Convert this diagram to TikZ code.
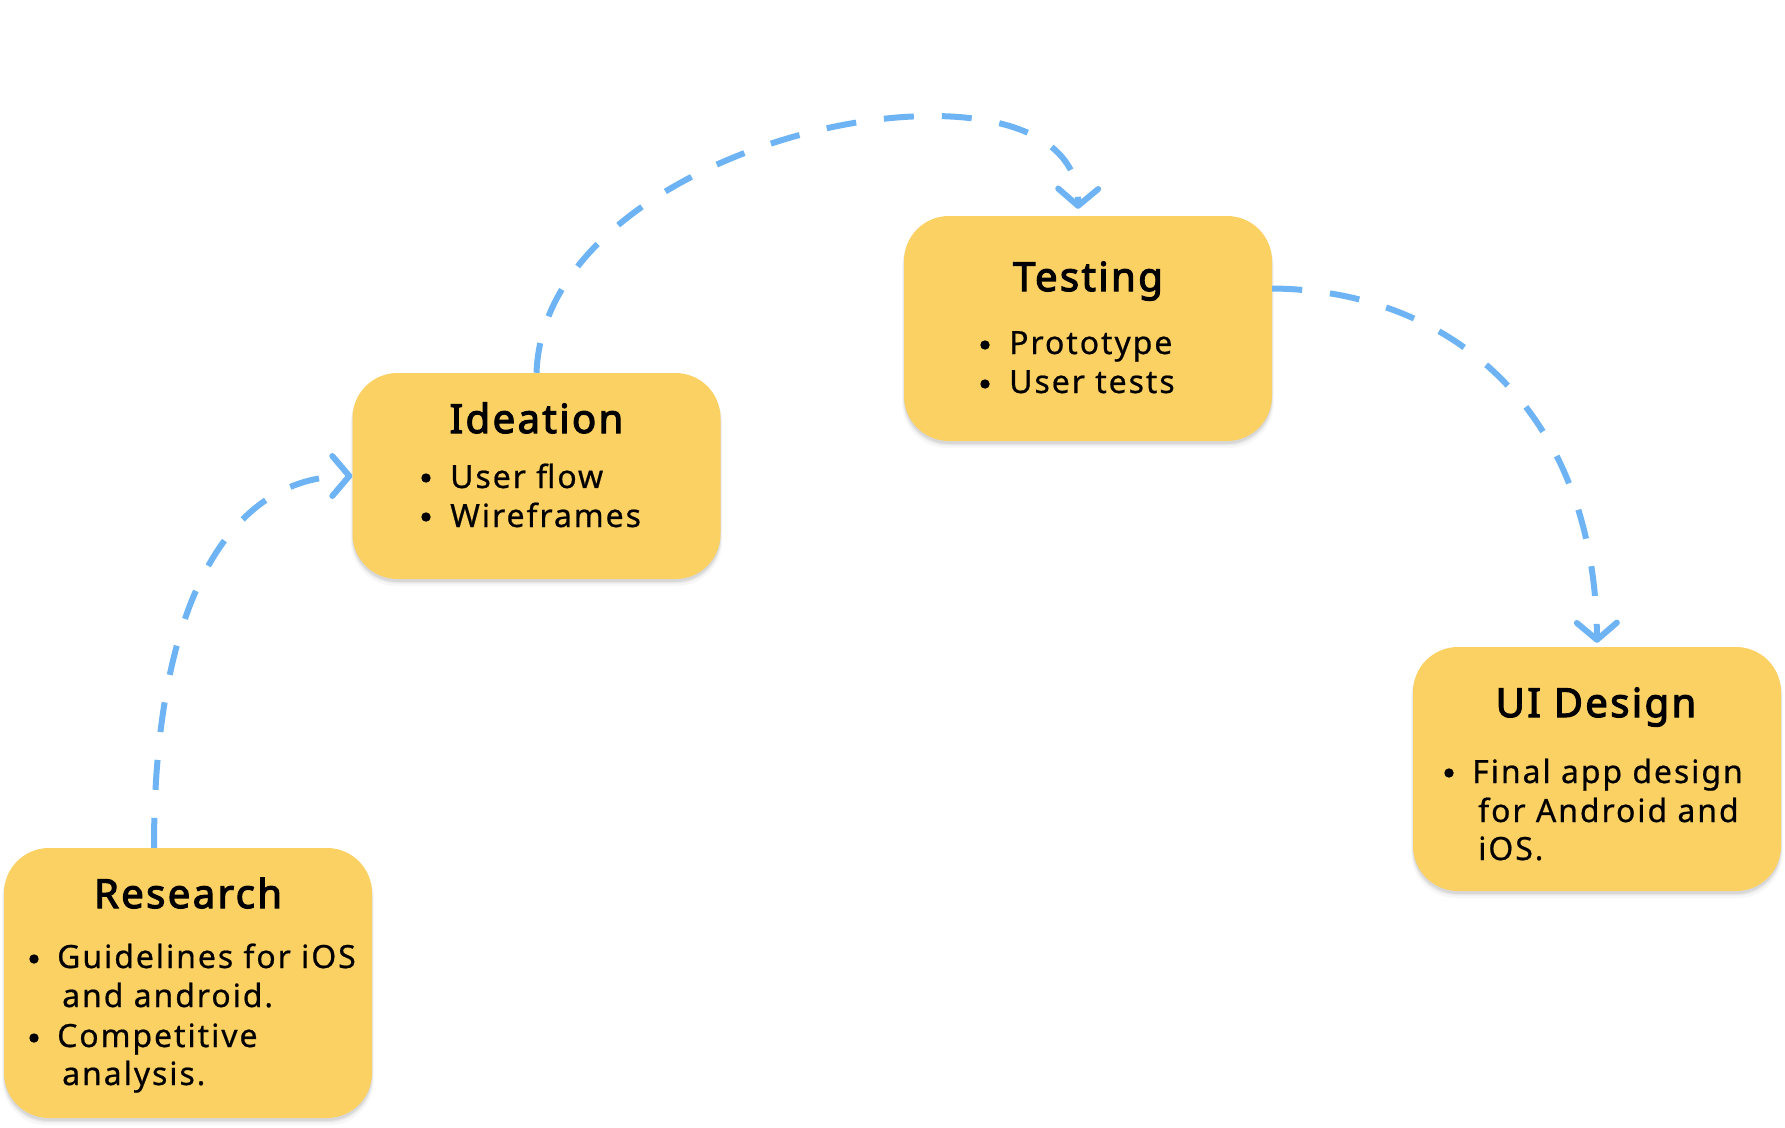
\documentclass[tikz,border=0pt]{standalone}
\usepackage{fontspec}
\setmainfont[LetterSpace=6,FakeBold=0.6]{Noto Sans}
\newfontfamily\headfont[LetterSpace=6,FakeBold=3]{Noto Sans}
\usetikzlibrary{arrows.meta,shadows}

\definecolor{cardfill}{HTML}{FBD164}
\definecolor{flow}{HTML}{6EB4F5}

\tikzset{
  card/.style={rectangle, rounded corners=45pt, fill=cardfill, minimum width=368pt,
    inner sep=0pt,
    general shadow={fill=black, opacity=0.03, shadow yshift=-6pt, shadow scale=1.01},
    general shadow={fill=black, opacity=0.05, shadow yshift=-4pt, shadow scale=1.005},
    general shadow={fill=black, opacity=0.08, shadow yshift=-3pt}},
  cardtitle/.style={anchor=base, inner sep=0pt, font=\headfont\fontsize{40}{48}\selectfont},
  item/.style={anchor=base west, inner sep=0pt, font=\fontsize{32}{39}\selectfont},
  flowline/.style={draw=flow, line width=6pt, dash pattern=on 30pt off 28pt,
    -{Straight Barb[length=17pt, width=40pt, round]}},
}

\begin{document}
\begin{tikzpicture}[x=1pt, y=-1pt]
  \useasboundingbox (0,0) rectangle (1785,1127);

  % cards
  \node[card, minimum height=270pt] (research) at (188,983) {};
  \node[card, minimum height=206pt] (ideation) at (536.5,476) {};
  \node[card, minimum height=225pt] (testing) at (1088,328.5) {};
  \node[card, minimum height=244pt] (uidesign) at (1597,769) {};

  % Research
  \node[cardtitle] (research-title) at (188,908) {Research};
  \fill (34,959) circle (4.7pt);
  \node[item] (research-l1) at (57,968) {Guidelines for iOS};
  \node[item] (research-l2) at (62,1007) {and android.};
  \fill (34,1038) circle (4.7pt);
  \node[item] (research-l3) at (57,1047) {Competitive};
  \node[item] (research-l4) at (62,1085) {analysis.};

  % Ideation
  \node[cardtitle] (ideation-title) at (536.5,433) {Ideation};
  \fill (426,478) circle (4.7pt);
  \node[item] (ideation-l1) at (450,488) {User flow};
  \fill (426,517) circle (4.7pt);
  \node[item] (ideation-l2) at (450,527) {Wireframes};

  % Testing
  \node[cardtitle] (testing-title) at (1088,291) {Testing};
  \fill (985,345) circle (4.7pt);
  \node[item] (testing-l1) at (1009,354) {Prototype};
  \fill (985,384) circle (4.7pt);
  \node[item] (testing-l2) at (1009,393) {User tests};

  % UI Design
  \node[cardtitle] (uidesign-title) at (1596,717) {UI Design};
  \fill (1449,773) circle (4.7pt);
  \node[item] (uidesign-l1) at (1472,783) {Final app design};
  \node[item] (uidesign-l2) at (1478,822) {for Android and};
  \node[item] (uidesign-l3) at (1478,860) {iOS.};

  % dashed flow between the stages
  \draw[flowline] ([xshift=-34pt]research.north)
    .. controls (154,600) and (230,476) .. (ideation.west);
  \draw[flowline] (ideation.north)
    .. controls (545,130) and (1080,30) .. ([shift={(-10pt,7pt)}]testing.north);
  \draw[flowline] ([yshift=40pt]testing.east)
    .. controls (1450,290) and (1595,410) .. ([yshift=4pt]uidesign.north);
\end{tikzpicture}
\end{document}
